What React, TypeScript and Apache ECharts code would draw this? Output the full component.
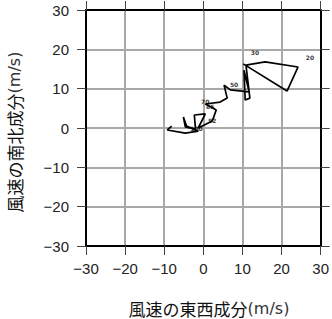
import React, { useEffect, useRef } from 'react';
import * as echarts from 'echarts';

// Hodograph: wind components (m/s) in order of height
const windU = [-8.1, -9.2, -4.6, -1.3, -4.3, -5.1, -4.6, -2.0, -2.3, 0.5, -1.3, 2.3, 3.3, 1.5, 0.5, 4.3, 6.1, 5.3, 6.9, 11.7, 10.4, 10.7, 11.9, 10.9, 15.8, 24.2, 21.4, 10.2];
const windV = [0.5, -0.5, -1.3, -0.8, 0.5, 2.8, 0.3, -0.3, 3.3, 3.6, 0.0, 1.8, 4.6, 5.6, 6.1, 6.6, 7.6, 10.9, 9.7, 9.2, 14.7, 7.1, 7.6, 16.0, 16.8, 15.5, 9.4, 16.3];
const levelIndex = [7, 11, 13, 14, 17, 23, 25];
const levelNames = ['100', '92', '85', '70', '50', '30', '20'];
const axisMin = -30;
const axisMax = 30;
const axisStep = 10;
const xTitle = '風速の東西成分';
const yTitle = '風速の南北成分';
const unitText = '(m/s)';

// label offsets (style)
const labelOffsets = [[1, -1], [0, 0], [1, 1], [0, -3], [10, -1], [9, -13], [12, -10]];

const minus = (v: number) => String(v).replace('-', '\u2212');

export default function App() {
  const ref = useRef<HTMLDivElement>(null);
  useEffect(() => {
    if (!ref.current) return;
    const chart = echarts.init(ref.current, undefined, { renderer: 'svg' });
    const baseAxis = {
      type: 'value' as const,
      min: axisMin,
      max: axisMax,
      interval: axisStep,
    };
    const axisLine = { show: true, onZero: false, lineStyle: { color: '#000', width: 2 } };
    const axisTick = { show: true, inside: false, length: 9, lineStyle: { color: '#444', width: 1 } };
    const labelStyle = { fontSize: 15, color: '#222', fontFamily: 'Liberation Sans, Arial, sans-serif', formatter: minus };
    const split = { show: true, lineStyle: { color: '#a8a8a8', width: 2 } };
    const pointLabel = {
      show: true,
      position: 'inside',
      fontSize: 6,
      fontWeight: 'bold',
      color: '#000',
      fontFamily: 'DejaVu Sans, sans-serif',
    };
    chart.setOption({
      animation: false,
      grid: { left: 86, top: 10, width: 236, height: 236 },
      xAxis: [
        { ...baseAxis, position: 'bottom', axisLine, axisTick, axisLabel: { ...labelStyle, margin: 15 }, splitLine: split },
        { ...baseAxis, position: 'top', axisLine, axisTick, axisLabel: { show: false }, splitLine: { show: false } },
      ],
      yAxis: [
        { ...baseAxis, position: 'left', axisLine, axisTick, axisLabel: { ...labelStyle, margin: 17 }, splitLine: split },
        { ...baseAxis, position: 'right', axisLine, axisTick, axisLabel: { show: false }, splitLine: { show: false } },
      ],
      series: [
        {
          type: 'line',
          xAxisIndex: 0,
          yAxisIndex: 0,
          data: windU.map((u, i) => [u, windV[i]]),
          symbol: 'none',
          showSymbol: false,
          lineStyle: { color: '#000', width: 1.7 },
          z: 3,
        },
        {
          type: 'scatter',
          xAxisIndex: 0,
          yAxisIndex: 0,
          symbolSize: 1,
          itemStyle: { color: 'rgba(0,0,0,0)' },
          z: 4,
          data: levelIndex.map((idx, k) => ({
            value: [windU[idx], windV[idx]],
            label: {
              ...pointLabel,
              formatter: levelNames[k],
              offset: labelOffsets[k],
            },
          })),
          label: pointLabel,
        },
      ],
      graphic: [
        {
          type: 'text',
          x: 209,
          y: 308,
          style: {
            text: '{a|' + xTitle + '}{b|' + unitText + '}',
            align: 'center',
            verticalAlign: 'middle',
            rich: {
              a: { fontSize: 17, fontFamily: 'Noto Sans CJK JP', fill: '#111' },
              b: { fontSize: 16, fontFamily: 'DejaVu Sans', fill: '#333' },
            },
          },
        },
        {
          type: 'text',
          x: 14,
          y: 132,
          rotation: Math.PI / 2,
          style: {
            text: '{a|' + yTitle + '}{b|' + unitText + '}',
            align: 'center',
            verticalAlign: 'middle',
            rich: {
              a: { fontSize: 17, fontFamily: 'Noto Sans CJK JP', fill: '#111' },
              b: { fontSize: 16, fontFamily: 'DejaVu Sans', fill: '#333' },
            },
          },
        },
      ],
    });
    return () => chart.dispose();
  }, []);
  return (
    <div
      ref={ref}
      style={{ position: 'fixed', left: 0, top: 0, width: 332, height: 319, background: '#fff' }}
    />
  );
}
